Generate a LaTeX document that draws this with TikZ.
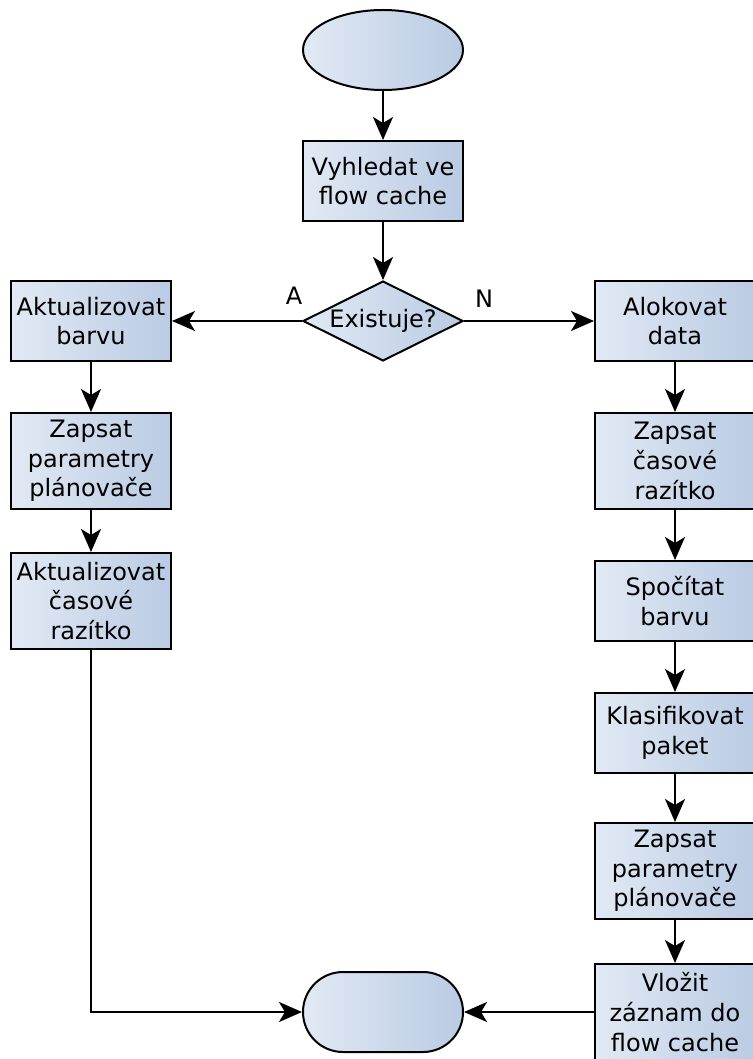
\documentclass[tikz,border=0pt]{standalone}
\usepackage{fontspec}
\setmainfont{DejaVu Sans}
\usetikzlibrary{shapes.geometric,arrows.meta}
\definecolor{fillL}{HTML}{E2E9F4}
\definecolor{fillR}{HTML}{B9CBE3}

\begin{document}
\begin{tikzpicture}[x=0.5pt,y=-0.5pt,
  font=\fontsize{12}{14.8}\selectfont,
  fillgrad/.style={left color=fillL,right color=fillR},
  box/.style={rectangle,draw,line width=1pt,minimum width=80pt,minimum height=40pt,
    inner sep=1pt,align=center,fillgrad},
  tallbox/.style={box,minimum height=48pt},
  flow/.style={-{Stealth[length=11.5pt,width=10pt,inset=3pt]},line width=1pt}]
\useasboundingbox (0,0) rectangle (753,1059);

% terminals
\node[ellipse,draw,line width=1pt,minimum width=80pt,minimum height=40pt,inner sep=0pt,fillgrad] (start) at (383,50) {};
\node[rectangle,draw,line width=1pt,minimum width=80pt,minimum height=40pt,rounded corners=20pt,fillgrad] (end) at (383,1012) {};

% centre column
\node[box] (lookup) at (383,181) {Vyhledat ve\\flow cache};
\node[diamond,draw,line width=1pt,minimum width=80pt,minimum height=40pt,inner sep=0pt,fillgrad,
  label=center:Existuje?] (exists) at (383,321) {};
\node (yes) at (294,296) {A};
\node (no) at (484,299) {N};

% left branch: flow found
\node[box] (updcol) at (91,321) {Aktualizovat\\barvu};
\node[tallbox] (schedL) at (91,461) {Zapsat\\parametry\\plánovače};
\node[tallbox] (updts) at (91,601) {Aktualizovat\\časové\\razítko};

% right branch: new flow
\node[box] (alloc) at (675,321) {Alokovat\\data};
\node[tallbox] (ts) at (675,461) {Zapsat\\časové\\razítko};
\node[box] (color) at (675,601) {Spočítat\\barvu};
\node[box] (classify) at (675,733) {Klasifikovat\\paket};
\node[tallbox] (schedR) at (675,871) {Zapsat\\parametry\\plánovače};
\node[tallbox] (insert) at (675,1012) {Vložit\\záznam do\\flow cache};

% connectors
\draw[flow] (start) -- (lookup);
\draw[flow] (lookup) -- (exists);
\draw[flow] (exists.west) -- (updcol.east);
\draw[flow] (exists.east) -- (alloc.west);
\draw[flow] (updcol) -- (schedL);
\draw[flow] (schedL) -- (updts);
\draw[flow] (updts.south) |- (end.west);
\draw[flow] (alloc) -- (ts);
\draw[flow] (ts) -- (color);
\draw[flow] (color) -- (classify);
\draw[flow] (classify) -- (schedR);
\draw[flow] (schedR) -- (insert);
\draw[flow] (insert.west) -- (end.east);
\end{tikzpicture}
\end{document}
